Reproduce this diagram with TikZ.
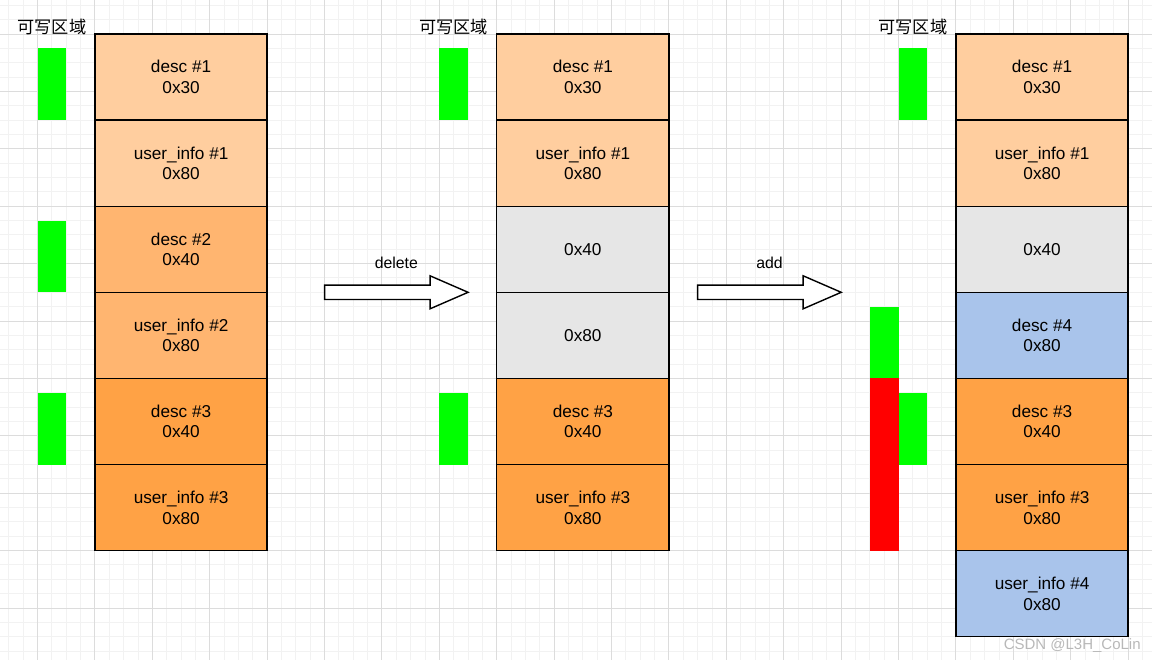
\documentclass[tikz,border=0pt]{standalone}
\usepackage{fontspec}
\setmainfont{Liberation Sans}
\newfontfamily\cjk{Noto Sans CJK SC}
\usetikzlibrary{positioning}
\definecolor{peachA}{HTML}{FFCE9F}
\definecolor{peachB}{HTML}{FFB570}
\definecolor{peachC}{HTML}{FFA245}
\definecolor{freed}{HTML}{E6E6E6}
\definecolor{newblk}{HTML}{A9C4EB}
\definecolor{gridmaj}{HTML}{DCDCDC}
\definecolor{gridmin}{HTML}{F2F2F2}

\begin{document}
\begin{tikzpicture}[x=1.435pt,y=-1.435pt,
  chunk/.style={draw=black, line width=1.4pt, outer sep=0pt, inner sep=0pt,
    minimum width=172.2pt, minimum height=86.1pt, align=center,
    font=\fontsize{17.2}{20.6}\selectfont},
  below/.append style={node distance=0pt},
  bar/.style={fill=#1},
  blockarrow/.style={draw=black, line width=1.4pt, fill=white, line join=miter},
  steplabel/.style={font=\fontsize{15.8}{18}\selectfont},
  zone/.style={font=\cjk\fontsize{17.2}{20}\selectfont}]
\useasboundingbox (-66.2,-23.7) rectangle (736.6,436.2);
% grid
\foreach \x in {-60,-50,...,730} \draw[gridmin, line width=1pt] (\x,-23.7) -- (\x,436.2);
\foreach \y in {-20,-10,...,430} \draw[gridmin, line width=1pt] (-66.2,\y) -- (736.6,\y);
\foreach \x in {-40,0,...,720} \draw[gridmaj, line width=1pt] (\x,-23.7) -- (\x,436.2);
\foreach \y in {0,40,...,400} \draw[gridmaj, line width=1pt] (-66.2,\y) -- (736.6,\y);

% before
\node[chunk, fill=peachA] (d1) at (60,30) {desc \#1\\0x30};
\node[chunk, fill=peachA, below=0pt of d1] (u1) {user\_info \#1\\0x80};
\node[chunk, fill=peachB, below=0pt of u1] (d2) {desc \#2\\0x40};
\node[chunk, fill=peachB, below=0pt of d2] (u2) {user\_info \#2\\0x80};
\node[chunk, fill=peachC, below=0pt of u2] (d3) {desc \#3\\0x40};
\node[chunk, fill=peachC, below=0pt of d3] (u3) {user\_info \#3\\0x80};
\node[zone] (w1) at (-30,-5) {可写区域};
\foreach \y in {10,130,250} \fill[green] (-40,\y) rectangle (-20,\y+50);

% after delete
\node[chunk, fill=peachA] (dd1) at (340,30) {desc \#1\\0x30};
\node[chunk, fill=peachA, below=0pt of dd1] (du1) {user\_info \#1\\0x80};
\node[chunk, fill=freed, below=0pt of du1] (df1) {0x40};
\node[chunk, fill=freed, below=0pt of df1] (df2) {0x80};
\node[chunk, fill=peachC, below=0pt of df2] (dd3) {desc \#3\\0x40};
\node[chunk, fill=peachC, below=0pt of dd3] (du3) {user\_info \#3\\0x80};
\node[zone] (w2) at (250,-5) {可写区域};
\foreach \y in {10,250} \fill[green] (240,\y) rectangle (260,\y+50);

% after add
\node[chunk, fill=peachA] (ad1) at (660,30) {desc \#1\\0x30};
\node[chunk, fill=peachA, below=0pt of ad1] (au1) {user\_info \#1\\0x80};
\node[chunk, fill=freed, below=0pt of au1] (af1) {0x40};
\node[chunk, fill=newblk, below=0pt of af1] (ad4) {desc \#4\\0x80};
\node[chunk, fill=peachC, below=0pt of ad4] (ad3) {desc \#3\\0x40};
\node[chunk, fill=peachC, below=0pt of ad3] (au3) {user\_info \#3\\0x80};
\node[chunk, fill=newblk, below=0pt of au3] (au4) {user\_info \#4\\0x80};
\node[zone] (w3) at (570,-5) {可写区域};
\fill[green] (560,10) rectangle (580,60);
\fill[green] (540,190) rectangle (560,240);
\fill[red] (540,240) rectangle (560,360);
\fill[green] (560,250) rectangle (580,300);

% block arrows
\foreach \a/\txt/\nm in {160/delete/del, 420/add/add}
{
  \draw[blockarrow] (\a,175) -- (\a+73.5,175) -- (\a+73.5,168.5) -- (\a+100,180)
    -- (\a+73.5,191.5) -- (\a+73.5,185) -- (\a,185) -- cycle;
  \node[steplabel] (\nm) at (\a+50,159.5) {\txt};
}

\node[font=\fontsize{15}{18}\selectfont, text=black!28] (mark) at (681,426) {CSDN @L3H\_CoLin};
\end{tikzpicture}
\end{document}
